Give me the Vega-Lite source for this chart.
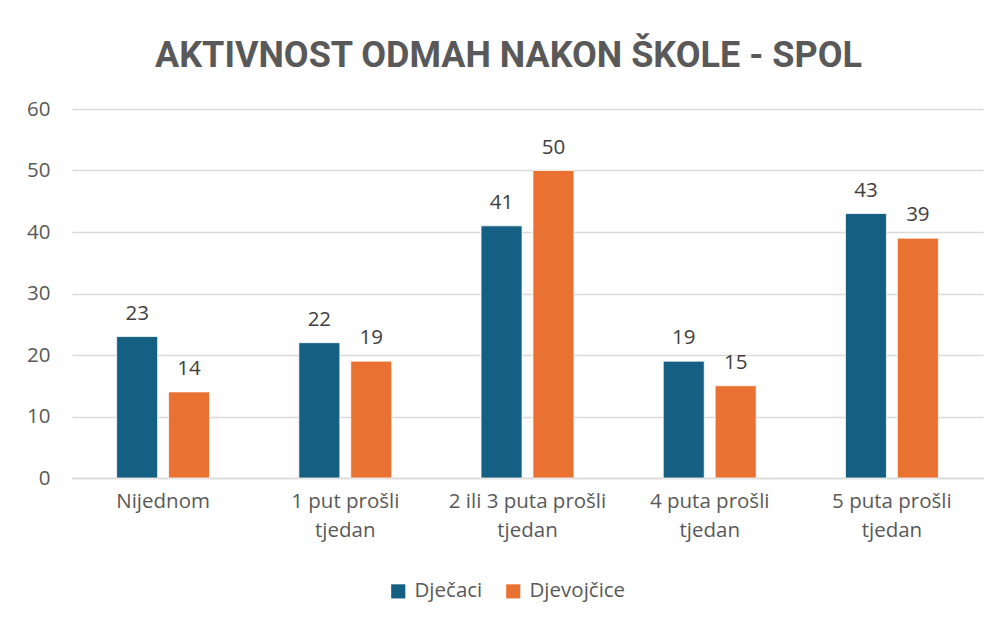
{
  "$schema": "https://vega.github.io/schema/vega-lite/v6.json",
  "autosize": "none",
  "width": 911,
  "height": 369,
  "padding": {"left": 72, "top": 109, "right": 19, "bottom": 145},
  "background": "white",
  "title": {
    "text": "AKTIVNOST ODMAH NAKON ŠKOLE - SPOL",
    "font": "Roboto",
    "fontSize": 36,
    "fontWeight": "bold",
    "color": "#595959",
    "anchor": "middle",
    "dx": -19,
    "offset": 24
  },
  "data": {
    "values": [
      {"kategorija": "Nijednom", "spol": "Dječaci", "vrijednost": 23},
      {"kategorija": "Nijednom", "spol": "Djevojčice", "vrijednost": 14},
      {"kategorija": "1 put prošli tjedan", "spol": "Dječaci", "vrijednost": 22},
      {"kategorija": "1 put prošli tjedan", "spol": "Djevojčice", "vrijednost": 19},
      {"kategorija": "2 ili 3 puta prošli tjedan", "spol": "Dječaci", "vrijednost": 41},
      {"kategorija": "2 ili 3 puta prošli tjedan", "spol": "Djevojčice", "vrijednost": 50},
      {"kategorija": "4 puta prošli tjedan", "spol": "Dječaci", "vrijednost": 19},
      {"kategorija": "4 puta prošli tjedan", "spol": "Djevojčice", "vrijednost": 15},
      {"kategorija": "5 puta prošli tjedan", "spol": "Dječaci", "vrijednost": 43},
      {"kategorija": "5 puta prošli tjedan", "spol": "Djevojčice", "vrijednost": 39}
    ]
  },
  "encoding": {
    "x": {
      "field": "kategorija",
      "type": "nominal",
      "sort": null,
      "scale": {"paddingInner": 0.49, "paddingOuter": 0.245},
      "axis": {
        "title": null,
        "labelAngle": 0,
        "labelFont": "Open Sans",
        "labelFontSize": 20.5,
        "labelColor": "#595959",
        "labelPadding": 13,
        "labelLineHeight": 29,
        "labelBaseline": "top",
        "labelExpr": "datum.label == 'Nijednom' ? 'Nijednom' : [replace(datum.label, ' tjedan', ''), 'tjedan']",
        "ticks": false,
        "domainColor": "#d9d9d9",
        "domainWidth": 1.5,
        "grid": false
      }
    },
    "xOffset": {
      "field": "spol",
      "type": "nominal",
      "sort": ["Dječaci", "Djevojčice"],
      "scale": {"paddingInner": 0.21, "paddingOuter": 0}
    },
    "y": {
      "field": "vrijednost",
      "type": "quantitative",
      "scale": {"domain": [0, 60]},
      "axis": {
        "title": null,
        "values": [0, 10, 20, 30, 40, 50, 60],
        "labelOverlap": false,
        "labelFont": "Open Sans",
        "labelFontSize": 20.5,
        "labelColor": "#595959",
        "labelPadding": 22,
        "ticks": false,
        "domain": false,
        "gridColor": "#d9d9d9",
        "gridWidth": 1.5
      }
    }
  },
  "layer": [
    {
      "mark": {"type": "bar", "stroke": "white", "strokeWidth": 0.75},
      "encoding": {
        "color": {
          "field": "spol",
          "type": "nominal",
          "sort": ["Dječaci", "Djevojčice"],
          "scale": {"domain": ["Dječaci", "Djevojčice"], "range": ["#156082", "#E97132"]},
          "legend": {
            "title": null,
            "orient": "none",
            "direction": "horizontal",
            "legendX": 316,
            "legendY": 472,
            "symbolType": "square",
            "symbolSize": 200,
            "symbolStrokeWidth": 0,
            "labelFont": "Open Sans",
            "labelFontSize": 20.5,
            "labelColor": "#595959",
            "labelOffset": 6,
            "columnPadding": 20
          }
        }
      }
    },
    {
      "mark": {
        "type": "text",
        "baseline": "bottom",
        "dy": -13,
        "font": "Open Sans",
        "fontSize": 20.5,
        "color": "#404040"
      },
      "encoding": {
        "text": {"field": "vrijednost", "type": "quantitative"}
      }
    }
  ],
  "config": {
    "view": {"stroke": null}
  }
}
